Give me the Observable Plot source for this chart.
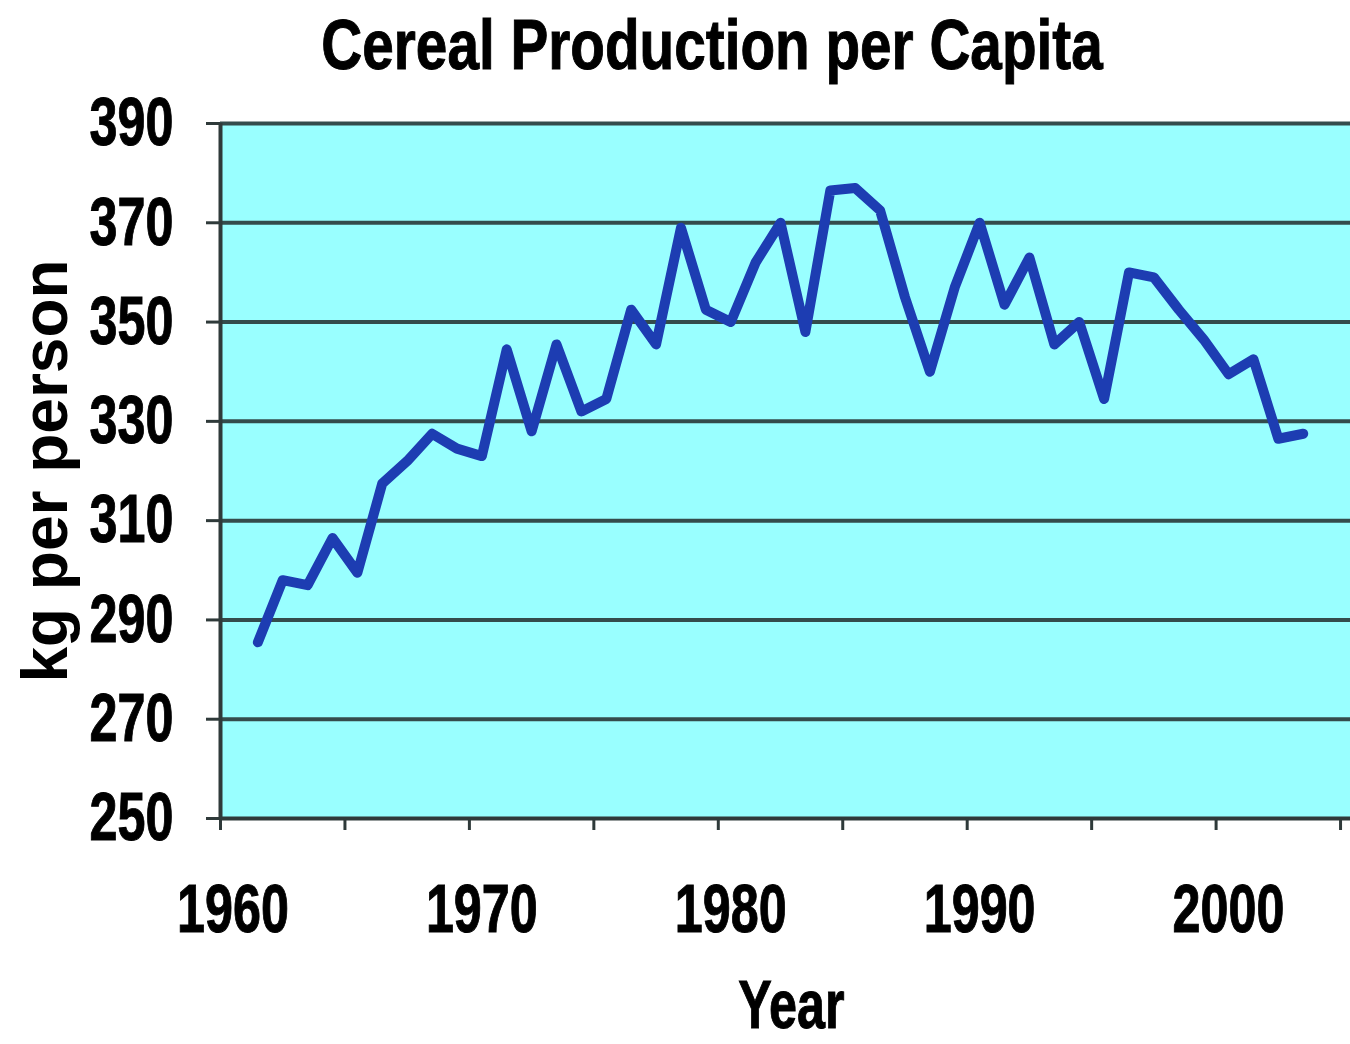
<!DOCTYPE html>
<html><head><meta charset="utf-8">
<script src="https://cdn.jsdelivr.net/npm/d3@7"></script>
<script src="https://cdn.jsdelivr.net/npm/@observablehq/plot@0.6"></script>
<style>
body{margin:0;background:#fff;}
#wrap{position:relative;width:1350px;height:1044px;overflow:hidden;background:#fff;}
#title{position:absolute;left:712px;top:10px;transform:translateX(-50%) scaleX(0.81);font:700 70px "Liberation Sans",Arial,sans-serif;line-height:1;white-space:nowrap;color:#000;-webkit-text-stroke:1px #000;}
#chart{position:absolute;left:0;top:100px;}
</style></head>
<body><div id="wrap"><div id="title">Cereal Production per Capita</div><div id="chart"></div></div>
<script>
const years = [1961,1962,1963,1964,1965,1966,1967,1968,1969,1970,
  1971,1972,1973,1974,1975,1976,1977,1978,1979,1980,
  1981,1982,1983,1984,1985,1986,1987,1988,1989,1990,
  1991,1992,1993,1994,1995,1996,1997,1998,1999,2000,
  2001,2002,2003];
const kgPerPerson = [285.5,298,297,306.5,299.5,317.5,322,327.5,324.5,323,
  344.5,328,345.5,332,334.5,352.5,345.5,369,352.5,350,
  362,370,348,376.5,377,372.5,355,340,357,370,
  353.5,363,345.5,350,334.5,360,359,352.5,346.5,339.5,
  342.5,326.5,327.5];
const yTicks = [250,270,290,310,330,350,370,390];
const xTickMarks = [1959.5,1964.5,1969.5,1974.5,1979.5,1984.5,1989.5,1994.5,1999.5,2004.5];
const xTickLabels = [1960,1970,1980,1990,2000];

const data = years.map((year, i) => ({year, value: kgPerPerson[i]}));
const font = "'Liberation Sans', Arial, sans-serif";
const axisColor = "#2f3a3a";

const chart = Plot.plot({
  width: 1350, height: 944,
  marginTop: 23, marginBottom: 226, marginLeft: 220, marginRight: 0,
  style: {fontFamily: font, background: "transparent", overflow: "visible"},
  x: {domain: [1959.5, 2004.9]},
  y: {domain: [250, 390]},
  marks: [
    Plot.frame({fill: "#99FFFF", stroke: null}),
    Plot.ruleY(yTicks.filter(d => d > 250), {stroke: "#344c4c", strokeWidth: 4}),
    Plot.line(data, {x: "year", y: "value", stroke: "#1d3db2", strokeWidth: 10, strokeLinejoin: "round", strokeLinecap: "round"}),
    Plot.ruleY([250], {stroke: axisColor, strokeWidth: 4}),
    Plot.ruleX([1959.5], {stroke: axisColor, strokeWidth: 4}),
    Plot.axisY(yTicks, {anchor: "left", tickSize: 14, tickPadding: 33, fontSize: 68, fontWeight: "bold", label: null, stroke: axisColor, strokeWidth: 3, fill: "black"}),
    Plot.axisX(xTickMarks, {anchor: "bottom", tickSize: 12, tickFormat: () => "", label: null, stroke: axisColor, strokeWidth: 3}),
    Plot.axisX(xTickLabels, {anchor: "bottom", tickSize: 0, tickPadding: 65, tickFormat: d => String(d), fontSize: 68, fontWeight: "bold", label: null, fill: "black"}),
    Plot.text(["Year"], {frameAnchor: "bottom", dx: 6, dy: 161, lineAnchor: "top", fontSize: 68, fontWeight: "bold", fill: "black"}),
    Plot.text(["kg per person"], {frameAnchor: "left", textAnchor: "middle", dx: -174, rotate: -90, lineAnchor: "middle", fontSize: 64, fontWeight: "bold", fill: "black"})
  ]
});

chart.querySelectorAll("text").forEach(t => {
  if (t.textContent === "kg per person" || t.textContent === "") return;
  const x = parseFloat(t.getAttribute("x")) || 0;
  const tr = t.getAttribute("transform") || "";
  t.setAttribute("transform", `${tr} translate(${x},0) scale(0.74,1) translate(${-x},0)`);
  t.setAttribute("stroke", "black");
  t.setAttribute("stroke-width", "1");
});

document.getElementById("chart").appendChild(chart);
</script>
</body></html>
